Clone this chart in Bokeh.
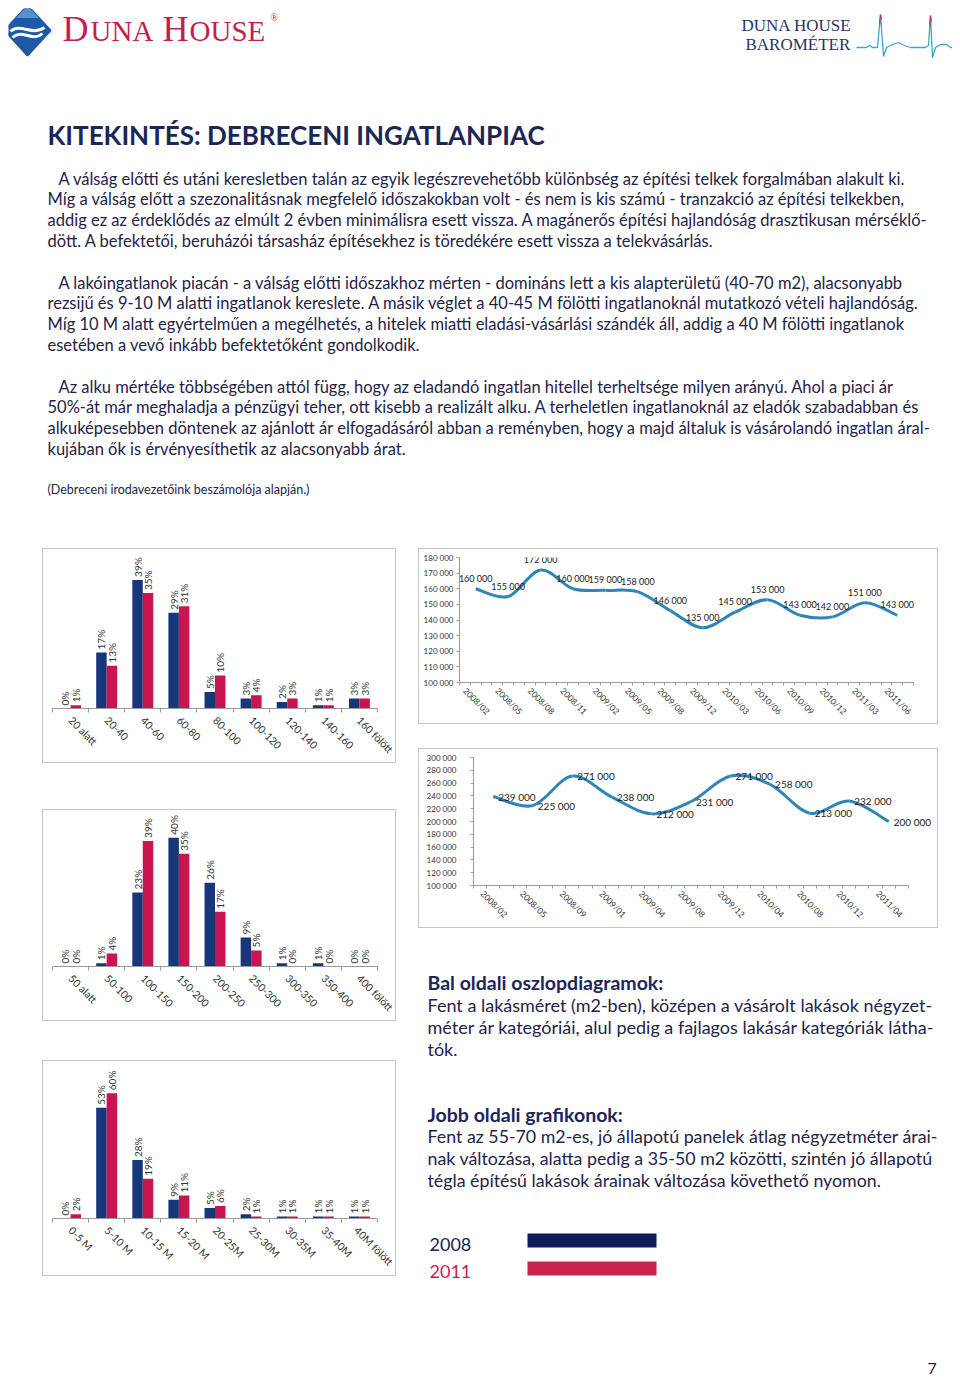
import numpy as np
from math import pi
from bokeh.plotting import figure
from bokeh.layouts import column, row
from bokeh.models import Range1d, FixedTicker, Spacer, LabelSet, ColumnDataSource
from bokeh.core.properties import value
from bokeh.embed import file_html
from bokeh.resources import INLINE

# ---------------- data ----------------
size_categories = ["20 alatt", "20-40", "40-60", "60-80", "80-100", "100-120", "120-140", "140-160", "160 fölött"]
size_2008 = [0, 17, 39, 29, 5, 3, 2, 1, 3]
size_2011 = [1, 13, 35, 31, 10, 4, 3, 1, 3]

sqm_categories = ["50 alatt", "50-100", "100-150", "150-200", "200-250", "250-300", "300-350", "350-400", "400 fölött"]
sqm_2008 = [0, 1, 23, 40, 26, 9, 1, 1, 0]
sqm_2011 = [0, 4, 39, 35, 17, 5, 0, 0, 0]

price_categories = ["0-5 M", "5-10 M", "10-15 M", "15-20 M", "20-25M", "25-30M", "30-35M", "35-40M", "40M fölött"]
price_2008 = [0, 53, 28, 9, 5, 2, 1, 1, 1]
price_2011 = [2, 60, 19, 11, 6, 1, 1, 1, 1]

panel_dates = ["2008/02", "2008/05", "2008/08", "2008/11", "2009/02", "2009/05", "2009/08",
               "2009/12", "2010/03", "2010/06", "2010/09", "2010/12", "2011/03", "2011/06"]
panel_prices = [160000, 155000, 172000, 160000, 159000, 158000, 146000,
                135000, 145000, 153000, 143000, 142000, 151000, 143000]
panel_yticks = [100000, 110000, 120000, 130000, 140000, 150000, 160000, 170000, 180000]

brick_dates = ["2008/02", "2008/05", "2008/09", "2009/01", "2009/04", "2009/08",
               "2009/12", "2010/04", "2010/08", "2010/12", "2011/04"]
brick_prices = [239000, 225000, 271000, 238000, 212000, 231000, 271000, 258000, 213000, 232000, 200000]
brick_yticks = [100000, 120000, 140000, 160000, 180000, 200000, 220000, 240000, 260000, 280000, 300000]

series_names = ["2008", "2011"]

title_text = "KITEKINTÉS: DEBRECENI INGATLANPIAC"
para1 = ["A válság előtti és utáni keresletben talán az egyik legészrevehetőbb különbség az építési telkek forgalmában alakult ki.",
         "Míg a válság előtt a szezonalitásnak megfelelő időszakokban volt - és nem is kis számú - tranzakció az építési telkekben,",
         "addig ez az érdeklődés az elmúlt 2 évben minimálisra esett vissza. A magánerős építési hajlandóság drasztikusan mérséklő-",
         "dött. A befektetői, beruházói társasház építésekhez is töredékére esett vissza a telekvásárlás."]
para2 = ["A lakóingatlanok piacán - a válság előtti időszakhoz mérten - domináns lett a kis alapterületű (40-70 m2), alacsonyabb",
         "rezsijű és 9-10 M alatti ingatlanok kereslete. A másik véglet a 40-45 M fölötti ingatlanoknál mutatkozó vételi hajlandóság.",
         "Míg 10 M alatt egyértelműen a megélhetés, a hitelek miatti eladási-vásárlási szándék áll, addig a 40 M fölötti ingatlanok",
         "esetében a vevő inkább befektetőként gondolkodik."]
para3 = ["Az alku mértéke többségében attól függ, hogy az eladandó ingatlan hitellel terheltsége milyen arányú. Ahol a piaci ár",
         "50%-át már meghaladja a pénzügyi teher, ott kisebb a realizált alku. A terheletlen ingatlanoknál az eladók szabadabban és",
         "alkuképesebben döntenek az ajánlott ár elfogadásáról abban a reményben, hogy a majd általuk is vásárolandó ingatlan áral-",
         "kujában ők is érvényesíthetik az alacsonyabb árat."]
source_note = "(Debreceni irodavezetőink beszámolója alapján.)"

left_head = "Bal oldali oszlopdiagramok:"
left_body = ["Fent a lakásméret (m2-ben), középen a vásárolt lakások négyzet-",
             "méter ár kategóriái, alul pedig a fajlagos lakásár kategóriák látha-",
             "tók."]
right_head = "Jobb oldali grafikonok:"
right_body = ["Fent az 55-70 m2-es, jó állapotú panelek átlag négyzetméter árai-",
              "nak változása, alatta pedig a 35-50 m2 közötti, szintén jó állapotú",
              "tégla építésű lakások árainak változása követhető nyomon."]

# ---------------- styles ----------------
NAVY = "#17377a"
CRIMSON = "#c9144f"
LINE = "#2f86b6"
TEXT = "#1f2347"
AXIS = "#9a9a9a"
BOX = "#c4c4c4"
FONT = "Lato"


def boxed(p, border=True):
    st = {"border": f"1px solid {BOX}"} if border else {}
    return column(p, styles=st)


def bar_chart(cats, v08, v11, ymax, h, top, bottom):
    n = len(cats)
    w = 352
    p = figure(width=w, height=h, x_range=Range1d(0, n), y_range=Range1d(0, ymax),
               output_backend="svg", toolbar_location=None, y_axis_location=None,
               min_border_left=9, min_border_right=18, min_border_top=top, min_border_bottom=bottom)
    p.grid.visible = False
    p.outline_line_color = None
    centers = np.arange(n) + 0.5
    off = 0.145
    p.vbar(x=centers - off, top=v08, width=0.29, fill_color=NAVY, line_color=None)
    p.vbar(x=centers + off, top=v11, width=0.29, fill_color=CRIMSON, line_color=None)
    for xs, vals in ((centers - off, v08), (centers + off, v11)):
        p.text(x=xs, y=vals, text=[f"{v}%" for v in vals], angle=pi / 2,
               text_align="left", text_baseline="middle", y_offset=-3,
               text_font=value(FONT), text_font_size="10px", text_color="#333333")
    ax = p.xaxis[0]
    ax.ticker = FixedTicker(ticks=list(centers), minor_ticks=list(range(n + 1)))
    ax.major_label_overrides = {float(c): lab for c, lab in zip(centers, cats)}
    ax.major_tick_out = 0
    ax.major_tick_in = 0
    ax.minor_tick_out = 4
    ax.minor_tick_in = 0
    ax.minor_tick_line_color = AXIS
    ax.axis_line_color = AXIS
    ax.major_label_orientation = -pi / 4
    ax.major_label_standoff = 6
    ax.major_label_text_font = FONT
    ax.major_label_text_font_size = "10.5px"
    ax.major_label_text_color = "#333333"
    return boxed(p)


def fmt(v):
    return f"{v:,}".replace(",", " ")


def line_chart(dates, prices, yticks, w, h, bl, br, br_label, bt, bb, mode, shift, standoff, lab_size):
    n = len(dates)
    cat_w = (w - bl - br) / n
    extra = (br - br_label) / cat_w
    p = figure(width=w, height=h, x_range=Range1d(-0.5, n - 0.5 + extra),
               y_range=Range1d(yticks[0], yticks[-1]),
               output_backend="svg", toolbar_location=None,
               min_border_left=bl, min_border_right=br_label, min_border_top=bt, min_border_bottom=bb)
    p.grid.visible = False
    p.outline_line_color = None
    xs = np.arange(n, dtype=float)
    ys = np.array(prices, dtype=float)
    xp = np.concatenate([[xs[0]], xs, [xs[-1]]])
    yp = np.concatenate([[ys[0]], ys, [ys[-1]]])
    cx0 = xs[:-1] + (xp[2:n + 1] - xp[0:n - 1]) / 6
    cy0 = ys[:-1] + (yp[2:n + 1] - yp[0:n - 1]) / 6
    cx1 = xs[1:] - (xp[3:n + 2] - xp[1:n]) / 6
    cy1 = ys[1:] - (yp[3:n + 2] - yp[1:n]) / 6
    p.bezier(x0=xs[:-1], y0=ys[:-1], x1=xs[1:], y1=ys[1:], cx0=cx0, cy0=cy0, cx1=cx1, cy1=cy1,
             line_color=LINE, line_width=3)
    src = ColumnDataSource(dict(x=xs, y=ys, label=[fmt(v) for v in prices]))
    if mode == "above":
        labels = LabelSet(x="x", y="y", text="label", source=src, text_align="center",
                          text_baseline="bottom", y_offset=5, text_font=value(FONT),
                          text_font_size=lab_size, text_color="#222222")
    else:
        labels = LabelSet(x="x", y="y", text="label", source=src, text_align="left",
                          text_baseline="middle", x_offset=5, text_font=value(FONT),
                          text_font_size=lab_size, text_color="#222222")
    p.add_layout(labels)
    ax = p.xaxis[0]
    ax.bounds = (-0.5, n - 0.5)
    ax.ticker = FixedTicker(ticks=[i - shift for i in range(n)],
                            minor_ticks=[-0.5 + k / 3 for k in range(3 * n + 1)])
    ax.major_label_overrides = {i - shift: d for i, d in enumerate(dates)}
    ax.major_tick_out = 0
    ax.major_tick_in = 0
    ax.minor_tick_out = 3
    ax.minor_tick_in = 0
    ax.minor_tick_line_color = AXIS
    ax.axis_line_color = AXIS
    ax.major_label_orientation = -pi / 4
    ax.major_label_standoff = 4
    ax.major_label_text_font = FONT
    ax.major_label_text_font_size = "8.5px"
    ax.major_label_text_color = "#333333"
    ay = p.yaxis[0]
    ay.ticker = FixedTicker(ticks=yticks, minor_ticks=[])
    ay.major_label_overrides = {t: fmt(t) for t in yticks}
    ay.major_tick_out = 3
    ay.major_tick_in = 0
    ay.major_tick_line_color = AXIS
    ay.axis_line_color = AXIS
    ay.major_label_standoff = standoff
    ay.major_label_text_font = FONT
    ay.major_label_text_font_size = "8px"
    ay.major_label_text_color = "#333333"
    return boxed(p)


def canvas(w, h, x0, y0):
    p = figure(width=w, height=h, x_range=Range1d(x0, x0 + w), y_range=Range1d(y0 + h, y0),
               output_backend="svg", toolbar_location=None, x_axis_location=None,
               y_axis_location=None, min_border=0)
    p.grid.visible = False
    p.outline_line_color = None
    return p


# ---------------- top part: header + text ----------------
top = canvas(944, 532, 8, 8)
top.patch(x=[27, 50, 27, 4], y=[5, 30, 55, 30], fill_color="#1d5aa6", line_color="#1d5aa6", line_width=2)
top.patch(x=[27, 38.5, 15.5], y=[5, 17.5, 17.5], fill_color="#5a8fd0", line_color=None)
top.bezier(x0=[10, 12], y0=[31, 37], x1=[44, 42], y1=[27, 33], cx0=[20, 22], cy0=[22, 28],
           cx1=[32, 32], cy1=[36, 42], line_color="white", line_width=3)
serif = value("Liberation Serif")
for t, x, y, size in (("D", 62, 28, "36px"), ("UNA", 90, 30.5, "29px"),
                      ("H", 162, 28, "36px"), ("OUSE", 189, 30.5, "29px")):
    top.text(x=[x], y=[y], text=[t], text_font=serif, text_font_size=size, text_color="#c41e50",
             text_baseline="alphabetic")
top.text(x=[270], y=[17], text=["®"], text_font=serif, text_font_size="10px", text_color="#c41e50",
         text_baseline="alphabetic")
top.text(x=[741], y=[24.5], text=["DUNA HOUSE"], text_font=serif, text_font_size="17px",
         text_color="#26336a", text_baseline="alphabetic")
top.text(x=[745], y=[44], text=["BAROMÉTER"], text_font=serif, text_font_size="17px",
         text_color="#26336a", text_baseline="alphabetic")
ecg_x = [856, 866, 869, 872, 877, 880, 883, 886, 892, 898, 904, 910, 925, 928, 930, 932, 935, 940, 946, 950, 955]
ecg_y = [47, 47, 45, 47, 47, 14, 56, 47, 44, 42, 45, 47, 47, 45, 15, 57, 47, 44, 44, 47, 47]
top.line(x=ecg_x, y=ecg_y, line_color="#3aa7c9", line_width=1.3)
top.multi_line(xs=[[879, 880, 881], [929.2, 930, 930.8]], ys=[[24, 14, 19], [25, 15, 21]],
               line_color="#c73a5a", line_width=1.3)

top.text(x=[47], y=[134], text=[title_text], text_font=value(FONT), text_font_style="bold",
         text_font_size="26px", text_color="#1b2659", text_baseline="alphabetic")
body_font = dict(text_font=value(FONT), text_font_size="16.5px", text_color=TEXT, text_baseline="alphabetic")
for lines, y0 in ((para1, 178), (para2, 282), (para3, 386)):
    top.text(x=[58] + [47] * (len(lines) - 1), y=[y0 + 20.8 * i for i in range(len(lines))],
             text=lines, **body_font)
top.text(x=[47], y=[489], text=[source_note], text_font=value(FONT), text_font_size="12.5px",
         text_color=TEXT, text_baseline="alphabetic")

# ---------------- charts ----------------
bar1 = bar_chart(size_categories, size_2008, size_2011, 46.7, 213, 5, 50)
bar2 = bar_chart(sqm_categories, sqm_2008, sqm_2011, 47.2, 210, 4, 47)
bar3 = bar_chart(price_categories, price_2008, price_2011, 72.8, 214, 5, 55)

line1 = line_chart(panel_dates, panel_prices, panel_yticks, 518, 174, 40, 24, 12, 8, 38, "above",
                   0.34375, 3, "9px")
line2 = line_chart(brick_dates, brick_prices, brick_yticks, 518, 178, 54, 29, 2, 8, 42, "right",
                   0.28125, 14, "10px")

# ---------------- right bottom text ----------------
txt = canvas(534, 452, 418, 928)
txt.text(x=[427], y=[981.5], text=[left_head], text_font=value(FONT), text_font_style="bold",
         text_font_size="19.5px", text_color="#1b2659", text_baseline="alphabetic")
txt.text(x=[427] * 3, y=[1004 + 22 * i for i in range(3)], text=left_body, text_font=value(FONT),
         text_font_size="18px", text_color=TEXT, text_baseline="alphabetic")
txt.text(x=[427], y=[1114.3], text=[right_head], text_font=value(FONT), text_font_style="bold",
         text_font_size="19.5px", text_color="#1b2659", text_baseline="alphabetic")
txt.text(x=[427] * 3, y=[1135.7 + 22 * i for i in range(3)], text=right_body, text_font=value(FONT),
         text_font_size="17.8px", text_color=TEXT, text_baseline="alphabetic")
txt.text(x=[429, 429], y=[1244.3, 1271], text=series_names, text_font=value(FONT), text_font_size="18px",
         text_color=["#1a2350", "#c8234f"], text_baseline="alphabetic")
txt.quad(left=[527, 527], right=[656, 656], top=[1233, 1261], bottom=[1247, 1275],
         fill_color=["#0f1c57", "#c8234f"], line_color=None)
txt.text(x=[927], y=[1368], text=["7"], text_font=value(FONT), text_font_size="16px",
         text_color="#222222", text_baseline="alphabetic")

left_col = column(Spacer(width=354, height=8), bar1, Spacer(width=354, height=46), bar2,
                  Spacer(width=354, height=39), bar3)
right_col = column(Spacer(width=534, height=8), line1, Spacer(width=534, height=24), line2,
                   boxed(txt, border=False))
mid = row(Spacer(width=34, height=10), left_col, Spacer(width=22, height=10), right_col)
inner = column(boxed(top, border=False), mid)
page = column(Spacer(width=10, height=8), row(Spacer(width=8, height=10), inner))

open("out.html", "w").write(file_html(page, INLINE))
